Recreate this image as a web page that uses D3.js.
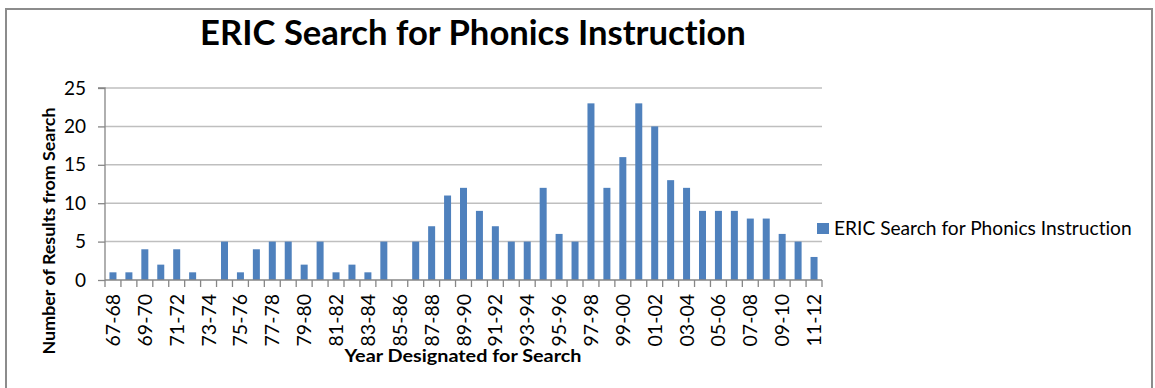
<!DOCTYPE html>
<html><head><meta charset="utf-8">
<script src="https://cdn.jsdelivr.net/npm/d3@7"></script>
<style>html,body{margin:0;padding:0;background:#fff;}svg{display:block;}text{font-variant-ligatures:none;}</style>
</head><body>
<svg id="c" width="1155" height="388"></svg>
<script>
const categories = ["67-68","68-69","69-70","70-71","71-72","72-73","73-74","74-75","75-76","76-77","77-78","78-79","79-80","80-81","81-82","82-83","83-84","84-85","85-86","86-87","87-88","88-89","89-90","90-91","91-92","92-93","93-94","94-95","95-96","96-97","97-98","98-99","99-00","00-01","01-02","02-03","03-04","04-05","05-06","06-07","07-08","08-09","09-10","10-11","11-12"];
const values = [1,1,4,2,4,1,0,5,1,4,5,5,2,5,1,2,1,5,0,5,7,11,12,9,7,5,5,12,6,5,23,12,16,23,20,13,12,9,9,9,8,8,6,5,3];
const yTicks = [0,5,10,15,20,25];
const titleText = "ERIC Search for Phonics Instruction";
const seriesName = "ERIC Search for Phonics Instruction";
const xTitle = "Year Designated for Search";
const yTitle = "Number of Results from Search";

const svg = d3.select("#c");
const FONT = "Lato, 'Open Sans', sans-serif";
const m = {left:105, right:822, top:88, bottom:280};

// outer border
svg.append("rect").attr("x",6).attr("y",9).attr("width",1146).attr("height",400)
  .attr("fill","none").attr("stroke","#8c8c8c").attr("stroke-width",2);

const x = d3.scaleBand().domain(categories).range([m.left,m.right]).paddingInner(0).paddingOuter(0);
const y = d3.scaleLinear().domain([0,25]).range([m.bottom,m.top]);

// gridlines
svg.append("g").selectAll("line").data(yTicks.filter(d=>d>0)).join("line")
  .attr("x1",m.left).attr("x2",m.right)
  .attr("y1",d=>y(d)).attr("y2",d=>y(d))
  .attr("stroke","#bfbfbf").attr("stroke-width",1.5);

// bars
const bw = 7;
svg.append("g").selectAll("rect").data(values).join("rect")
  .attr("x",(d,i)=>x(categories[i])+x.bandwidth()/2-bw/2)
  .attr("width",bw)
  .attr("y",d=>y(d)).attr("height",d=>y(0)-y(d))
  .attr("fill","#4f81bd");

// y axis
const yAxis = d3.axisLeft(y).tickValues(yTicks).tickSize(7).tickPadding(12).tickFormat(d3.format("d"));
const gy = svg.append("g").attr("transform",`translate(${m.left},0)`).call(yAxis);
gy.select(".domain").attr("stroke","#868686").attr("stroke-width",1.3).attr("d",`M-7,${m.top}H0V${m.bottom}`);
gy.selectAll(".tick line").attr("stroke","#868686").attr("stroke-width",1.3);
gy.selectAll(".tick text").attr("font-family",FONT).attr("font-size",19).attr("fill","#000");

// x axis
const xAxis = d3.axisBottom(x).tickSize(0).tickFormat((d,i)=> i%2===0 ? d : "");
const gx = svg.append("g").attr("transform",`translate(0,${m.bottom})`).call(xAxis);
gx.select(".domain").attr("stroke","#868686").attr("stroke-width",1.3).attr("d",`M${m.left},0H${m.right}`);
gx.selectAll(".tick text").attr("font-family",FONT).attr("font-size",19.5).attr("fill","#000")
  .attr("transform","rotate(-90)").attr("text-anchor","end")
  .attr("x",-14).attr("y",0).attr("dy","0.36em");
// category boundary tick marks
const bounds = categories.map(c=>x(c)).concat([m.right]);
svg.append("g").selectAll("line").data(bounds).join("line")
  .attr("x1",d=>d).attr("x2",d=>d).attr("y1",m.bottom).attr("y2",m.bottom+7)
  .attr("stroke","#868686").attr("stroke-width",1.3);

function fit(sel, target){
  const n = sel.node(); const fs = parseFloat(sel.attr("font-size"));
  const len = n.getComputedTextLength();
  sel.attr("font-size", fs*target/len);
}

// title
const t = svg.append("text").attr("x",473).attr("y",45).attr("text-anchor","middle")
  .attr("font-family",FONT).attr("font-weight","bold").attr("font-size",32).attr("fill","#000").text(titleText);
fit(t,546);

// axis titles
const xt = svg.append("text").attr("x",463).attr("y",362).attr("text-anchor","middle")
  .attr("font-family",FONT).attr("font-weight","bold").attr("font-size",16.5).attr("fill","#000")
  .attr("textLength",237).attr("lengthAdjust","spacingAndGlyphs").text(xTitle);
const yt = svg.append("text").attr("transform","translate(55,231) rotate(-90)").attr("text-anchor","middle")
  .attr("font-family",FONT).attr("font-weight","bold").attr("font-size",17.5).attr("fill","#000")
  .attr("textLength",247).attr("lengthAdjust","spacingAndGlyphs").text(yTitle);

// legend
svg.append("rect").attr("x",817).attr("y",223).attr("width",12).attr("height",11).attr("fill","#4f81bd");
const lt = svg.append("text").attr("x",834).attr("y",234.5)
  .attr("font-family",FONT).attr("font-size",18).attr("fill","#000").text(seriesName);
fit(lt,298);
</script>
</body></html>
